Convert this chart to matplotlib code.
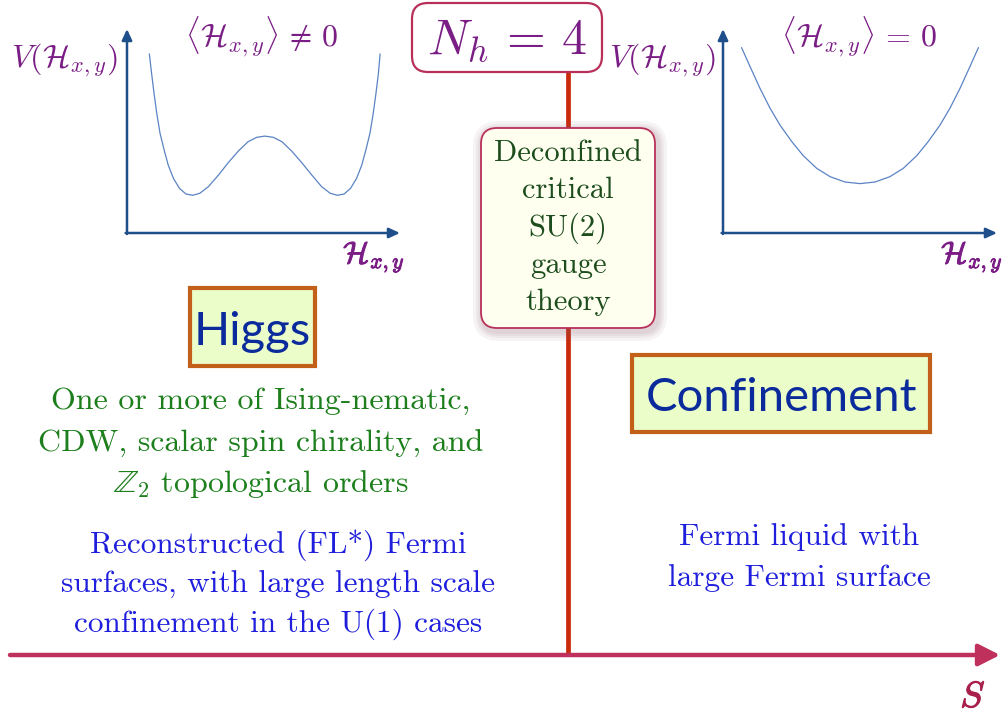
import matplotlib
matplotlib.use("Agg")
import matplotlib.pyplot as plt
from matplotlib.patches import FancyBboxPatch, Rectangle
import matplotlib.patheffects as pe

plt.rcParams['mathtext.fontset'] = 'cm'

# potential curves (inset units 0-10 on both axes)
higgs_h = [0.82, 0.90, 0.99, 1.09, 1.21, 1.36, 1.51, 1.70, 1.92, 2.16, 2.41, 2.67,
           2.98, 3.35, 3.71, 4.08, 4.44, 4.75, 5.05, 5.36, 5.67, 6.03, 6.40, 6.77,
           7.13, 7.44, 7.70, 7.95, 8.19, 8.41, 8.60, 8.75, 8.90, 9.02, 9.12, 9.21, 9.27]
higgs_v = [8.77, 7.83, 6.85, 5.87, 4.89, 4.07, 3.33, 2.68, 2.19, 1.91, 1.85, 1.95,
           2.27, 2.84, 3.45, 4.02, 4.48, 4.69, 4.75, 4.69, 4.48, 4.02, 3.45, 2.84,
           2.27, 1.95, 1.85, 1.91, 2.19, 2.68, 3.33, 4.07, 4.89, 5.87, 6.85, 7.83, 8.77]
conf_h = [0.68, 0.99, 1.35, 1.72, 2.08, 2.51, 2.93, 3.42, 3.91, 4.45, 5.00, 5.55,
          6.09, 6.58, 7.07, 7.49, 7.92, 8.28, 8.65, 9.01, 9.32]
conf_v = [9.08, 8.15, 7.09, 6.11, 5.29, 4.48, 3.79, 3.17, 2.76, 2.50, 2.42, 2.50,
          2.76, 3.17, 3.79, 4.48, 5.29, 6.11, 7.09, 8.15, 9.08]

higgs_lines = ["One or more of Ising-nematic,",
               "CDW, scalar spin chirality, and",
               r"$\mathbb{Z}_2$ topological orders"]
flstar_lines = ["Reconstructed (FL*) Fermi",
                "surfaces, with large length scale",
                "confinement in the U(1) cases"]
fl_lines = ["Fermi liquid with", "large Fermi surface"]
dqcp_lines = ["Deconfined", "critical", "SU(2)", "gauge", "theory"]

purple = "#7a1d85"
crimson = "#c0305c"
axis_blue = "#1f4f8a"
curve_blue = "#5b83c4"
W, H = 1007, 713

fig = plt.figure(figsize=(W / 100, H / 100), dpi=100)
ax = fig.add_axes([0, 0, 1, 1])
ax.set_xlim(0, W)
ax.set_ylim(H, 0)
ax.axis("off")

bold = [pe.withStroke(linewidth=0.7, foreground=purple)]


def inset(x0, x1, y0, y1, h, v):
    a = fig.add_axes([x0 / W, 1 - y1 / H, (x1 - x0) / W, (y1 - y0) / H])
    a.set_xlim(0, 10)
    a.set_ylim(0, 10)
    a.axis("off")
    a.plot(h, v, color=curve_blue, lw=0.9, clip_on=False)
    kw = dict(arrowstyle="-|>,head_length=0.65,head_width=0.3", color=axis_blue,
              lw=1.8, shrinkA=0, shrinkB=0)
    a.annotate("", xy=(0, 10), xytext=(0, -0.05), arrowprops=kw, annotation_clip=False)
    a.annotate("", xy=(10, 0), xytext=(-0.05, 0), arrowprops=kw, annotation_clip=False)
    return a


inset(127, 400, 29, 233, higgs_h, higgs_v)
inset(723, 997, 29, 233, conf_h, conf_v)

lab = r"$V(\mathcal{H}_{x,y})$"
hx = r"$\mathcal{H}_{x,y}$"
ax.text(64, 67, lab, fontsize=23, color=purple, ha="center", va="baseline")
ax.text(662, 67, lab, fontsize=23, color=purple, ha="center", va="baseline")
ax.text(262, 46, r"$\langle\mathcal{H}_{x,y}\rangle \,\neq\, 0$", fontsize=23,
        color=purple, ha="center", va="baseline")
ax.text(859, 46, r"$\langle\mathcal{H}_{x,y}\rangle \,=\, 0$", fontsize=23,
        color=purple, ha="center", va="baseline")
ax.text(374, 263, hx, fontsize=22, color=purple, ha="center", va="baseline",
        path_effects=bold)
ax.text(972, 263, hx, fontsize=22, color=purple, ha="center", va="baseline",
        path_effects=bold)

# S axis and the critical line
ax.annotate("", xy=(1000, 655), xytext=(10, 655),
            arrowprops=dict(arrowstyle="-|>,head_length=0.65,head_width=0.33",
                            mutation_scale=20, color=crimson, lw=3.2,
                            shrinkA=0, shrinkB=0))
ax.plot([568, 568], [72, 655], color="#c92a0a", lw=3.4, solid_capstyle="butt")
ax.text(973, 707, r"$S$", fontsize=26, color="#a8204c", ha="center", va="baseline",
        path_effects=[pe.withStroke(linewidth=0.8, foreground="#a8204c")])

# N_h box
ax.add_patch(FancyBboxPatch((412, 3), 190, 69, boxstyle="round,pad=0,rounding_size=16",
                            facecolor="white", edgecolor="#b8305a", lw=1.6, zorder=3))
ax.text(507, 53, r"$N_h \,=\, 4$", fontsize=36, color=purple, ha="center",
        va="baseline", zorder=4)

# Deconfined box with soft shadow
for g in [10, 7, 5, 3]:
    ax.add_patch(FancyBboxPatch((481 - g + 2, 128 - g + 3), 174 + 2 * g, 200 + 2 * g,
                                boxstyle="round,pad=0,rounding_size=%d" % (16 + g),
                                facecolor="#8a5a6a", edgecolor="none", alpha=0.07,
                                zorder=3))
ax.add_patch(FancyBboxPatch((481, 128), 174, 200, boxstyle="round,pad=0,rounding_size=16",
                            facecolor="#fffff0", edgecolor="#b8305a", lw=1.3, zorder=4))
for txt, yb in zip(dqcp_lines, [161, 198, 236, 273, 310]):
    ax.text(568, yb, txt, fontsize=22, family="cmr10", color="#1d4d1d",
            ha="center", va="baseline", zorder=5)

# phase label boxes
for (x0, y0, x1, y1), txt, yb in [((190, 288, 315, 366), "Higgs", 345),
                                  ((632, 355, 930, 432), "Confinement", 411)]:
    ax.add_patch(Rectangle((x0, y0), x1 - x0, y1 - y0, facecolor="#ebfdc9",
                           edgecolor="#c2601a", lw=3, zorder=3))
    ax.text((x0 + x1) / 2, yb, txt, fontsize=34, family="Lato", color="#0b2b9c",
            ha="center", va="baseline", zorder=4)

for txt, yb in zip(higgs_lines, [409, 452, 492]):
    ax.text(261, yb, txt, fontsize=23, family="cmr10", color="#1c7f1c",
            ha="center", va="baseline")
for txt, yb in zip(flstar_lines, [553, 593, 632]):
    ax.text(278, yb, txt, fontsize=22.5, family="cmr10", color="#1e1edc",
            ha="center", va="baseline")
for txt, yb in zip(fl_lines, [545, 586]):
    ax.text(799, yb, txt, fontsize=22.5, family="cmr10", color="#1e1edc",
            ha="center", va="baseline")

fig.savefig("out.png", dpi=100)
